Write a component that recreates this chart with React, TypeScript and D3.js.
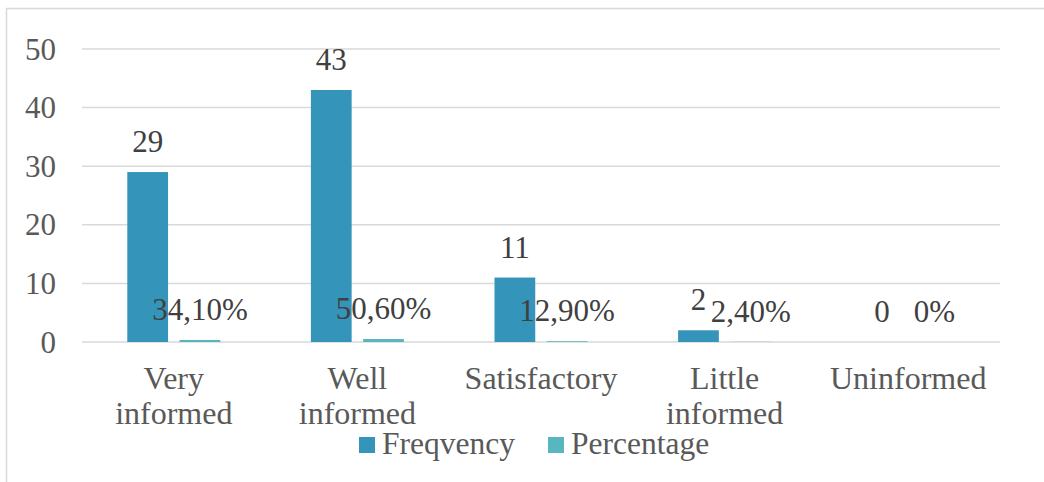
import React from "react";
import * as d3 from "d3";

const categories = [["Very", "informed"], ["Well", "informed"], ["Satisfactory"], ["Little", "informed"], ["Uninformed"]];
const frequency = [29, 43, 11, 2, 0];
const percentage = [0.341, 0.506, 0.129, 0.024, 0];
const percentageLabels = ["34,10%", "50,60%", "12,90%", "2,40%", "0%"];
const yTicks = [0, 10, 20, 30, 40, 50];
const seriesNames = ["Freqvency", "Percentage"];

const W = 1044;
const H = 482;
const COLORS = ["#3494BA", "#58B6C0"];
const FONT = "'Liberation Serif', 'Times New Roman', serif";

export default function App() {
  const keys = categories.map((c) => c.join(" "));
  const x0 = d3.scaleBand<string>().domain(keys).range([82, 1000]).paddingInner(0).paddingOuter(0);
  const x1 = d3.scaleBand<string>().domain(seriesNames).range([-46.5, 46.5]).paddingInner(0.22);
  const y = d3.scaleLinear().domain([0, 50]).range([342, 49]);
  const bw = x1.bandwidth();

  return (
    <div style={{ position: "fixed", left: 0, top: 0 }}>
      <svg width={W} height={H} style={{ display: "block", background: "#fff" }} fontFamily={FONT}>
        <rect x={6.5} y={8.5} width={W + 20} height={H + 20} fill="#fff" stroke="#D9D9D9" strokeWidth={1.5} />
        {yTicks.map((t) => (
          <g key={t}>
            <line x1={82} x2={1000} y1={y(t)} y2={y(t)} stroke="#D9D9D9" strokeWidth={1.5} />
            <text x={56} y={y(t)} dy="0.34em" textAnchor="end" fontSize={31} fill="#595959">
              {t}
            </text>
          </g>
        ))}
        {keys.map((k, i) => {
          const cx = (x0(k) as number) + x0.bandwidth() / 2;
          const fx = cx + (x1("Freqvency") as number);
          const px = cx + (x1("Percentage") as number);
          return (
            <g key={k}>
              <rect x={fx} y={y(frequency[i])} width={bw} height={y(0) - y(frequency[i])} fill={COLORS[0]} />
              <rect x={px} y={y(percentage[i])} width={bw} height={y(0) - y(percentage[i])} fill={COLORS[1]} />
              <text x={fx + bw / 2} y={y(frequency[i]) - 20} textAnchor="middle" fontSize={31} fill="#404040">
                {frequency[i]}
              </text>
              <text x={px + bw / 2} y={y(percentage[i]) - 20} textAnchor="middle" fontSize={31} fill="#404040">
                {percentageLabels[i]}
              </text>
              {categories[i].map((line, j) => (
                <text key={j} x={cx} y={389 + j * 35} textAnchor="middle" fontSize={32} fill="#595959">
                  {line}
                </text>
              ))}
            </g>
          );
        })}
        {seriesNames.map((s, i) => {
          const lx = [359, 548][i];
          return (
            <g key={s}>
              <rect x={lx} y={437} width={16} height={16} fill={COLORS[i]} />
              <text x={lx + 23} y={454} fontSize={31.5} fill="#595959">
                {s}
              </text>
            </g>
          );
        })}
      </svg>
    </div>
  );
}
